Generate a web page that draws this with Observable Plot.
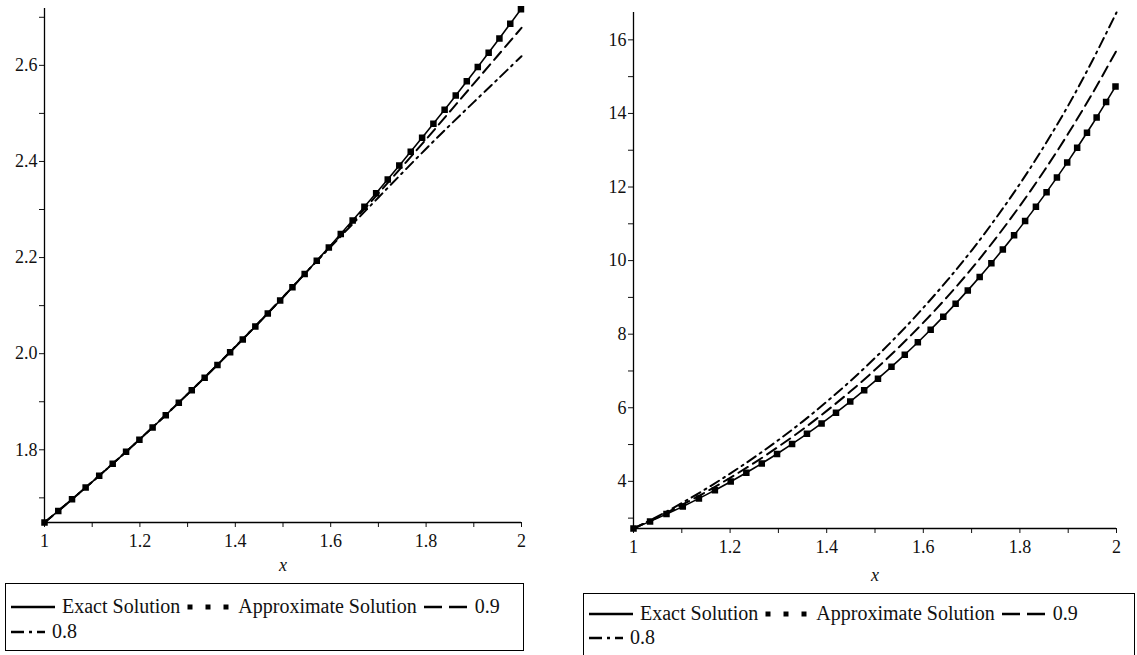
<!DOCTYPE html>
<html>
<head>
<meta charset="utf-8">
<script src="https://cdn.jsdelivr.net/npm/d3@7"></script>
<script src="https://cdn.jsdelivr.net/npm/@observablehq/plot@0.6"></script>
<style>
  html, body { margin: 0; padding: 0; background: #fff; }
  #root { position: relative; width: 1137px; height: 655px; overflow: hidden; background: #fff; font-family: "Liberation Serif", "Times New Roman", Times, "DejaVu Serif", serif; }
  .panel { position: absolute; }
  .panel svg { overflow: visible; }
  .panel svg text { font-family: "Liberation Serif", "Times New Roman", Times, "DejaVu Serif", serif; fill: #111; }
  .panel [aria-label="x-axis label"] text { font-style: italic; }
  .legend { position: absolute; border: 1.5px solid #000; box-sizing: border-box; font-family: "Liberation Serif", "Times New Roman", Times, "DejaVu Serif", serif; font-size: 20px; color: #111; }
  .row { position: absolute; left: 0; display: flex; align-items: center; white-space: nowrap; }
  .row svg { display: block; }
  .row span { margin: 0 5px 0 5px; }
</style>
</head>
<body>
<div id="root"></div>
<script>
// ---------- data ----------
const xs = [1.00,1.05,1.10,1.15,1.20,1.25,1.30,1.35,1.40,1.45,1.50,1.55,1.60,1.65,1.70,1.75,1.80,1.85,1.90,1.95,2.00];

const leftExact  = [1.6487,1.6904,1.7333,1.7771,1.8221,1.8682,1.9155,1.9640,2.0138,2.0647,2.1170,2.1706,2.2255,2.2819,2.3396,2.3989,2.4596,2.5219,2.5857,2.6512,2.7183];
const leftApprox = [1.6487,1.6904,1.7333,1.7771,1.8221,1.8682,1.9155,1.9640,2.0138,2.0647,2.1170,2.1706,2.2255,2.2819,2.3396,2.3989,2.4596,2.5219,2.5857,2.6512,2.7183];
const left09     = [1.6487,1.6904,1.7333,1.7771,1.8221,1.8684,1.9158,1.9644,2.0142,2.0652,2.1175,2.1708,2.2240,2.2785,2.3335,2.3895,2.4460,2.5040,2.5620,2.6200,2.6780];
const left08     = [1.6487,1.6904,1.7333,1.7771,1.8222,1.8686,1.9161,1.9648,2.0146,2.0656,2.1178,2.1709,2.2225,2.2740,2.3250,2.3760,2.4265,2.4755,2.5235,2.5710,2.6190];

const rightExact  = [2.7183,3.0005,3.3046,3.6319,3.9841,4.3629,4.7701,5.2075,5.6773,6.1815,6.7225,7.3028,7.9248,8.5915,9.3057,10.0706,10.8894,11.7657,12.7032,13.7060,14.7781];
const rightApprox = [2.7183,3.0005,3.3046,3.6319,3.9841,4.3629,4.7701,5.2075,5.6773,6.1815,6.7225,7.3028,7.9248,8.5915,9.3057,10.0706,10.8894,11.7657,12.7032,13.7060,14.7781];
const right09     = [2.7183,3.0245,3.3575,3.7118,4.0957,4.5025,4.9418,5.4106,5.9157,6.4535,7.0317,7.6533,8.3131,9.0211,9.7803,10.6043,11.4883,12.4363,13.4527,14.5421,15.7091];
const right08     = [2.7183,3.0485,3.4103,3.7953,4.2112,4.6509,5.1231,5.6241,6.1655,6.7378,7.3544,8.0112,8.7173,9.4678,10.2735,11.1482,12.0872,13.1070,14.2149,15.4330,16.7436];

const xMajor = [1, 1.2, 1.4, 1.6, 1.8, 2];
const xMinor = [1.1, 1.3, 1.5, 1.7, 1.9];
const leftYMajor = [1.8, 2.0, 2.2, 2.4, 2.6];
const leftYMinor = [1.7, 1.9, 2.1, 2.3, 2.5, 2.7];
const rightYMajor = [4, 6, 8, 10, 12, 14, 16];
const rightYMinor = [3, 5, 7, 9, 11, 13, 15];
const legendLabels = ["Exact Solution", "Approximate Solution", "0.9", "0.8"];
const xLabel = "x";

// ---------- styles ----------
const FONT = "Liberation Serif, Times New Roman, Times, DejaVu Serif, serif";
const styles = {
  exact:  {stroke: "#000", strokeWidth: 1.6},
  approx: {stroke: "#000", strokeWidth: 6.5, strokeDasharray: "0,18", strokeLinecap: "square"},
  d09:    {stroke: "#000", strokeWidth: 2, strokeDasharray: "11,6"},
  d08:    {stroke: "#000", strokeWidth: 2, strokeDasharray: "10,5,2,5"}
};

function panel({exact, approx, s09, s08, yMajor, yMinor, yFmt, width, height, mt, mr, mb, ml, lo}) {
  const yDomain = [d3.min([...exact, ...approx, ...s09, ...s08]), d3.max([...exact, ...approx, ...s09, ...s08])];
  const xFmt = d => (d === 1 || d === 2) ? String(d) : d.toFixed(1);
  return Plot.plot({
    width, height,
    marginTop: mt, marginRight: mr, marginBottom: mb, marginLeft: ml,
    style: {fontFamily: FONT, fontSize: "18px", color: "#111", background: "#fff", overflow: "visible"},
    x: {domain: [1, 2]},
    y: {domain: yDomain},
    marks: [
      Plot.axisX(xMajor, {tickSize: 5, tickPadding: 7, tickFormat: xFmt, label: xLabel, labelAnchor: "center", labelArrow: "none", labelOffset: lo, fontSize: 18, fontFamily: FONT}),
      Plot.axisX(xMinor, {tickSize: 5, tickFormat: () => "", label: null}),
      Plot.axisY(yMajor, {tickSize: 5, tickPadding: 2, tickFormat: yFmt, label: null, fontSize: 18, fontFamily: FONT}),
      Plot.axisY(yMinor, {tickSize: 5, tickFormat: () => "", label: null}),
      Plot.ruleX([1], {stroke: "#000", strokeWidth: 1.3}),
      Plot.ruleY([yDomain[0]], {stroke: "#000", strokeWidth: 1.3}),
      Plot.line(s08, {x: xs, y: s08, curve: "catmull-rom", ...styles.d08}),
      Plot.line(s09, {x: xs, y: s09, curve: "catmull-rom", ...styles.d09}),
      Plot.line(exact, {x: xs, y: exact, curve: "catmull-rom", ...styles.exact}),
      Plot.line(approx, {x: xs, y: approx, curve: "catmull-rom", ...styles.approx})
    ]
  });
}

function sample(st, w) {
  const ns = "http://www.w3.org/2000/svg";
  const svg = document.createElementNS(ns, "svg");
  svg.setAttribute("width", w); svg.setAttribute("height", 12);
  const l = document.createElementNS(ns, "line");
  l.setAttribute("x1", st === styles.approx ? 5 : 2); l.setAttribute("x2", w - 2);
  l.setAttribute("y1", 6); l.setAttribute("y2", 6);
  l.setAttribute("stroke", "#000");
  l.setAttribute("stroke-width", st === styles.approx ? 5 : 2.4);
  if (st.strokeDasharray) l.setAttribute("stroke-dasharray", st === styles.approx ? "0,18" : st === styles.d09 ? "18,7" : "13,5,3,5");
  if (st.strokeLinecap) l.setAttribute("stroke-linecap", st.strokeLinecap);
  svg.appendChild(l);
  return svg;
}

function legend(left, top, width, height, r1, r2) {
  const box = document.createElement("div");
  box.className = "legend";
  Object.assign(box.style, {left: left + "px", top: top + "px", width: width + "px", height: height + "px"});
  const row1 = document.createElement("div"); row1.className = "row"; row1.style.top = r1 + "px"; row1.style.left = "3px";
  const items = [[styles.exact, legendLabels[0]], [styles.approx, legendLabels[1]], [styles.d09, legendLabels[2]]];
  items.forEach(([st, lab]) => {
    row1.appendChild(sample(st, 48));
    const sp = document.createElement("span"); sp.textContent = lab; row1.appendChild(sp);
  });
  const row2 = document.createElement("div"); row2.className = "row"; row2.style.top = r2 + "px"; row2.style.left = "3px";
  row2.appendChild(sample(styles.d08, 38));
  const sp = document.createElement("span"); sp.textContent = legendLabels[3]; row2.appendChild(sp);
  box.appendChild(row1); box.appendChild(row2);
  return box;
}

const root = document.getElementById("root");

const L = panel({exact: leftExact, approx: leftApprox, s09: left09, s08: left08,
  yMajor: leftYMajor, yMinor: leftYMinor, yFmt: d => d.toFixed(1),
  width: 560, height: 580, mt: 8, mr: 39, mb: 58, ml: 44, lo: 48});
const ld = document.createElement("div"); ld.className = "panel"; ld.style.left = "0px"; ld.style.top = "0px";
ld.appendChild(L); root.appendChild(ld);

const R = panel({exact: rightExact, approx: rightApprox, s09: right09, s08: right08,
  yMajor: rightYMajor, yMinor: rightYMinor, yFmt: d => String(d),
  width: 560, height: 586, mt: 12, mr: 2, mb: 58, ml: 75, lo: 52});
const rd = document.createElement("div"); rd.className = "panel"; rd.style.left = "558px"; rd.style.top = "0px";
rd.appendChild(R); root.appendChild(rd);

root.appendChild(legend(5, 583, 519, 68, 11, 36));
root.appendChild(legend(583, 593, 552, 68, 8, 32));
</script>
</body>
</html>
